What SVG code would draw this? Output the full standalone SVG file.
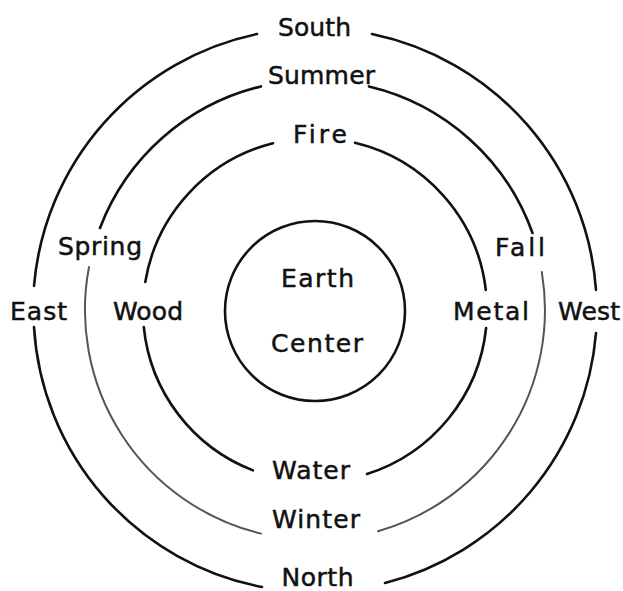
<svg xmlns="http://www.w3.org/2000/svg" width="623" height="591" viewBox="0 0 623 591">
<style>
.lbl{font-family:"DejaVu Sans","Liberation Sans",sans-serif;font-size:25px;fill:#111;stroke:#111;stroke-width:0.5;text-anchor:middle}
.arc{fill:none;stroke:#111;stroke-width:2.6;stroke-linecap:round}
.arcg{fill:none;stroke:#555;stroke-width:2;stroke-linecap:round}
</style>
<rect width="623" height="591" fill="#fff"/>
<g id="connectors">
<g id="outer-ring">
<path class="arc" d="M34,286 A282,282 0 0 1 257,34"/>
<path class="arc" d="M372,34 A282,282 0 0 1 596,290"/>
<path class="arc" d="M596,333 A282,282 0 0 1 385,583"/>
<path class="arc" d="M262,587 A282,282 0 0 1 34,327"/>
</g>
<g id="season-ring">
<path class="arc" d="M100,228 A230,230 0 0 1 261,86.4"/>
<path class="arc" d="M369,86.4 A230,230 0 0 1 532.5,233"/>
<path class="arcg" d="M541.8,272 A230,230 0 0 1 378,531.2"/>
<path class="arcg" d="M261,533.6 A230,230 0 0 1 89,267"/>
</g>
<g id="element-ring">
<path class="arc" d="M145.3,282 A172,172 0 0 1 273,143.2"/>
<path class="arc" d="M355,142.7 A172,172 0 0 1 485.8,290"/>
<path class="arc" d="M486.1,328 A172,172 0 0 1 367,474"/>
<path class="arc" d="M253,470.4 A172,172 0 0 1 143.8,327"/>
</g>
</g>
<g id="center-node">
<circle class="arc" cx="315" cy="311" r="90"/>
<text class="lbl" x="317.5" y="287" textLength="73" lengthAdjust="spacing">Earth</text>
<text class="lbl" x="317" y="352" textLength="92" lengthAdjust="spacing">Center</text>
</g>
<g id="south"><text class="lbl" x="314.5" y="36" textLength="73" lengthAdjust="spacing">South</text></g>
<g id="summer"><text class="lbl" x="321.5" y="84" textLength="107" lengthAdjust="spacing">Summer</text></g>
<g id="fire"><text class="lbl" x="320" y="143" textLength="54" lengthAdjust="spacing">Fire</text></g>
<g id="spring"><text class="lbl" x="100" y="255" textLength="84" lengthAdjust="spacing">Spring</text></g>
<g id="fall"><text class="lbl" x="520" y="256" textLength="50" lengthAdjust="spacing">Fall</text></g>
<g id="east"><text class="lbl" x="38.5" y="320" textLength="57" lengthAdjust="spacing">East</text></g>
<g id="wood"><text class="lbl" x="148" y="320" textLength="70" lengthAdjust="spacing">Wood</text></g>
<g id="metal"><text class="lbl" x="491" y="320" textLength="76" lengthAdjust="spacing">Metal</text></g>
<g id="west"><text class="lbl" x="589" y="320" textLength="62" lengthAdjust="spacing">West</text></g>
<g id="water"><text class="lbl" x="311" y="479" textLength="78" lengthAdjust="spacing">Water</text></g>
<g id="winter"><text class="lbl" x="316" y="528" textLength="88" lengthAdjust="spacing">Winter</text></g>
<g id="north"><text class="lbl" x="317.5" y="586" textLength="72" lengthAdjust="spacing">North</text></g>
</svg>
